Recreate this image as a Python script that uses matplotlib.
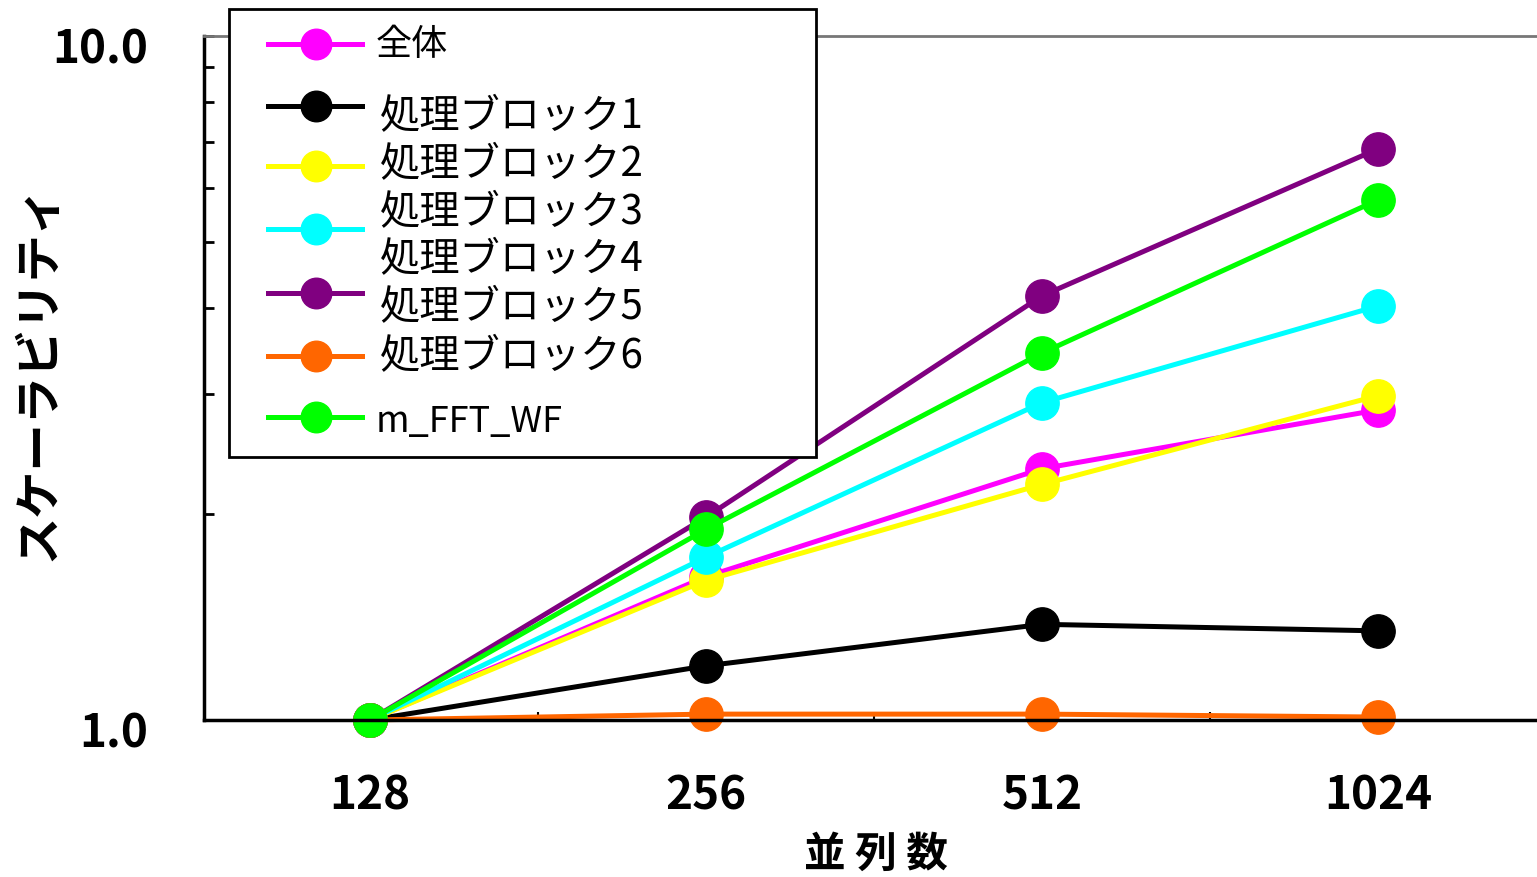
import numpy as np
import matplotlib
matplotlib.use("Agg")
import matplotlib.pyplot as plt
from matplotlib.lines import Line2D
from matplotlib.patches import Rectangle
from matplotlib.ticker import FixedLocator, NullFormatter
from matplotlib.transforms import ScaledTranslation

plt.rcParams['font.family'] = ['Noto Sans CJK JP', 'DejaVu Sans']

# データ
procs = ['128', '256', '512', '1024']
zentai = [1.0, 1.62, 2.33, 2.84]
block1 = [1.0, 1.20, 1.38, 1.35]
block2 = [1.0, 1.60, 2.21, 2.98]
block3 = [1.0, 1.73, 2.91, 4.03]
block5 = [1.0, 1.98, 4.17, 6.84]
block6 = [1.0, 1.02, 1.02, 1.01]
fft_wf = [1.0, 1.90, 3.44, 5.76]

series = [
    ('全体', zentai, '#FF00FF'),
    ('処理ブロック1', block1, '#000000'),
    ('処理ブロック2', block2, '#FFFF00'),
    ('処理ブロック3', block3, '#00FFFF'),
    ('処理ブロック5', block5, '#800080'),
    ('処理ブロック6', block6, '#FF6600'),
    ('m_FFT_WF', fft_wf, '#00FF00'),
]

W, H = 1537, 878
fig = plt.figure(figsize=(W / 100, H / 100), dpi=100)
ax = fig.add_axes([204 / W, 1 - 721 / H, 1 - 204 / W, (721 - 37) / H])

x = np.arange(len(procs))
for name, vals, col in series:
    ax.plot(x, vals, color=col, lw=3.6, marker='o', ms=24, mec=col, clip_on=False)

ax.set_yscale('log')
ax.set_ylim(1, 10)
ax.set_xlim(-0.494, 3.473)
ax.set_yticks([1, 10], ['1.0', '10.0'], fontsize=33, fontweight='bold')
ax.yaxis.set_minor_locator(FixedLocator(list(range(2, 10))))
ax.yaxis.set_minor_formatter(NullFormatter())
ax.set_xticks(x, procs, fontsize=33, fontweight='bold')
ax.xaxis.set_minor_locator(FixedLocator([0.5, 1.5, 2.5]))
ax.tick_params(axis='x', which='major', length=0, pad=38)
ax.tick_params(axis='x', which='minor', direction='in', length=6, width=1.5)
ax.tick_params(axis='y', which='both', direction='in', length=7, width=2, pad=40)

# ラベルを少し下へずらす
shift = ScaledTranslation(0, -9 / 100, fig.dpi_scale_trans)
for lab in ax.get_yticklabels():
    lab.set_transform(lab.get_transform() + shift)

for s in ['left', 'bottom']:
    ax.spines[s].set_linewidth(2.5)
ax.spines['top'].set_color('#777777')
ax.spines['top'].set_linewidth(2)
ax.spines['right'].set_visible(False)

fig.text(38 / W, 1 - 372 / H, 'スケーラビリティ', rotation=90, fontsize=34,
         fontweight='bold', ha='center', va='center')
fig.text(876 / W, 1 - 855 / H, '並 列 数', fontsize=30, fontweight='bold',
         ha='center', va='center')


# 凡例 (手作り)
def fx(px):
    return px / W


def fy(py):
    return 1 - py / H


fig.add_artist(Rectangle((fx(229), fy(458)), fx(816) - fx(229), fy(10) - fy(458),
                         transform=fig.transFigure, facecolor='white',
                         edgecolor='black', lw=2, zorder=10))
handle_y = [45, 107, 167, 230, 294, 357, 418]
for (name, vals, col), hy in zip(series, handle_y):
    fig.add_artist(Line2D([fx(268), fx(362)], [fy(hy), fy(hy)], color=col, lw=3.6,
                          transform=fig.transFigure, zorder=11))
    fig.add_artist(Line2D([fx(316)], [fy(hy)], color=col, marker='o', ms=22,
                          transform=fig.transFigure, zorder=12))

legend_labels = ['全体', '処理ブロック1', '処理ブロック2', '処理ブロック3',
                 '処理ブロック4', '処理ブロック5', '処理ブロック6', 'm_FFT_WF']
label_y = [45, 117, 165, 213, 260, 308, 357, 422]
for lab, ly in zip(legend_labels, label_y):
    if lab in ('全体', 'm_FFT_WF'):
        fig.text(fx(376), fy(ly), lab, fontsize=26, ha='left', va='center', zorder=13)
    else:
        fig.text(fx(380), fy(ly), lab, fontsize=29, ha='left', va='center', zorder=13)

fig.savefig('out.png', dpi=100)
